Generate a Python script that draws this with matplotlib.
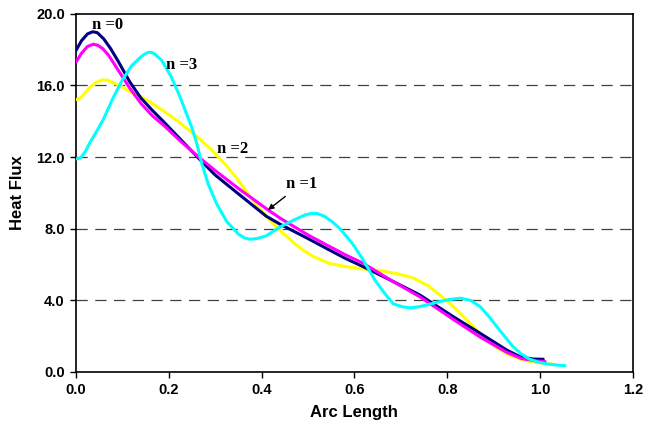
import numpy as np
import matplotlib
matplotlib.use("Agg")
import matplotlib.pyplot as plt

# heat flux along the arc for the four cases
x_n0 = [0, 0.012, 0.025, 0.036, 0.046, 0.06, 0.075, 0.09, 0.116, 0.14, 0.165, 0.188, 0.225, 0.26, 0.3, 0.35,
        0.41, 0.44, 0.5, 0.547, 0.58, 0.619, 0.68, 0.741, 0.813, 0.871, 0.928, 0.957, 0.985, 1.007]
y_n0 = [17.95, 18.5, 18.88, 19.0, 18.95, 18.6, 18.05, 17.4, 16.2, 15.3, 14.6, 14.0, 13.0, 12.05, 11.0, 9.95,
        8.7, 8.25, 7.45, 6.8, 6.35, 5.88, 5.1, 4.3, 3.09, 2.16, 1.23, 0.85, 0.72, 0.71]

x_n1 = [0, 0.012, 0.025, 0.037, 0.047, 0.058, 0.07, 0.085, 0.116, 0.14, 0.165, 0.188, 0.225, 0.26, 0.3, 0.35,
        0.414, 0.44, 0.5, 0.547, 0.58, 0.619, 0.68, 0.741, 0.813, 0.871, 0.928, 0.96, 0.99, 1.011]
y_n1 = [17.3, 17.8, 18.18, 18.3, 18.25, 18.05, 17.7, 17.1, 15.85, 15.0, 14.3, 13.8, 12.9, 12.1, 11.25, 10.25,
        9.05, 8.59, 7.65, 7.0, 6.55, 6.07, 5.1, 4.2, 2.94, 1.95, 1.1, 0.75, 0.62, 0.58]

x_n2 = [0, 0.01, 0.02, 0.03, 0.042, 0.055, 0.068, 0.08, 0.098, 0.116, 0.152, 0.188, 0.225, 0.26, 0.289,
        0.325, 0.35, 0.375, 0.41, 0.44, 0.47, 0.49, 0.511, 0.548, 0.583, 0.62, 0.655, 0.69, 0.727, 0.76,
        0.784, 0.81, 0.835, 0.86, 0.885, 0.91, 0.935, 0.958, 0.978, 1.0, 1.025]
y_n2 = [15.2, 15.3, 15.6, 15.9, 16.15, 16.3, 16.3, 16.15, 15.95, 15.66, 15.2, 14.6, 13.9, 13.15, 12.5,
        11.5, 10.7, 9.8, 8.7, 7.9, 7.2, 6.8, 6.45, 6.05, 5.88, 5.75, 5.66, 5.5, 5.25, 4.8,
        4.3, 3.72, 3.09, 2.43, 1.79, 1.3, 0.95, 0.72, 0.58, 0.5, 0.45]

x_n3 = [0, 0.01, 0.02, 0.03, 0.045, 0.059, 0.08, 0.1, 0.12, 0.14, 0.148, 0.156, 0.163, 0.17, 0.185, 0.205,
        0.224, 0.249, 0.26, 0.271, 0.285, 0.303, 0.325, 0.35, 0.362, 0.375, 0.39, 0.41, 0.44, 0.475,
        0.495, 0.508, 0.52, 0.535, 0.552, 0.569, 0.595, 0.619, 0.644, 0.665, 0.684, 0.705, 0.722,
        0.741, 0.762, 0.784, 0.806, 0.828, 0.85, 0.871, 0.89, 0.907, 0.925, 0.942, 0.96, 0.978, 0.995,
        1.014, 1.035, 1.054]
y_n3 = [11.9, 11.95, 12.3, 12.8, 13.45, 14.1, 15.3, 16.3, 17.1, 17.6, 17.75, 17.85, 17.85, 17.75, 17.4, 16.5,
        15.38, 13.7, 12.8, 11.66, 10.5, 9.4, 8.4, 7.7, 7.5, 7.41, 7.45, 7.6, 8.1, 8.55,
        8.78, 8.85, 8.85, 8.7, 8.4, 8.0, 7.2, 6.26, 5.14, 4.4, 3.8, 3.63, 3.58,
        3.65, 3.78, 3.93, 4.05, 4.12, 4.0, 3.65, 3.1, 2.53, 1.95, 1.41, 1.0, 0.71, 0.56,
        0.45, 0.39, 0.35]

xticks = [0.0, 0.2, 0.4, 0.6, 0.8, 1.0, 1.2]
yticks = [0.0, 4.0, 8.0, 12.0, 16.0, 20.0]

sans = ['Liberation Sans', 'DejaVu Sans']
serif = ['Liberation Serif', 'DejaVu Serif']

fig = plt.figure(figsize=(6.49, 4.33), dpi=100)
ax = fig.add_axes([0.117, 0.141, 0.858, 0.827])

for yy in yticks[1:-1]:
    ax.axhline(yy, color='#404040', lw=0.9, ls=(0, (9, 6)), zorder=1)

lw = 2.2
style = dict(lw=lw, solid_joinstyle='round', solid_capstyle='round')
ax.plot(x_n2, y_n2, color='#FFFF00', zorder=3, **style)
ax.plot(x_n0, y_n0, color='#000080', zorder=3, **style)
ax.plot(x_n1, y_n1, color='#FF00FF', zorder=4, **style)
ax.plot(x_n3, y_n3, color='#00FFFF', zorder=5, **style)

ax.set_xlim(0, 1.2)
ax.set_ylim(0, 20)
ax.set_xticks(xticks)
ax.set_yticks(yticks)
ax.set_xticklabels(['%.1f' % v for v in xticks], family=sans, fontweight='bold', fontsize=10.5)
ax.set_yticklabels(['%.1f' % v for v in yticks], family=sans, fontweight='bold', fontsize=10.5)
ax.tick_params(direction='out', length=4, width=1, pad=4)
for s in ax.spines.values():
    s.set_linewidth(1.2)

ax.set_xlabel('Arc Length', family=sans, fontweight='bold', fontsize=12, labelpad=6)
ax.set_ylabel('Heat Flux', family=sans, fontweight='bold', fontsize=12, labelpad=8)

tkw = dict(family=serif, fontweight='bold', fontsize=12, ha='left', va='center', zorder=6)
ax.text(0.034, 19.4, 'n =0', **tkw)
ax.text(0.195, 17.15, 'n =3', **tkw)
ax.text(0.303, 12.45, 'n =2', **tkw)
ax.annotate('n =1', xy=(0.414, 9.05), xytext=(0.452, 10.5),
            arrowprops=dict(arrowstyle='-|>', color='black', lw=1, mutation_scale=8,
                            shrinkA=2, shrinkB=0),
            **tkw)

fig.savefig('out.png', dpi=100)
